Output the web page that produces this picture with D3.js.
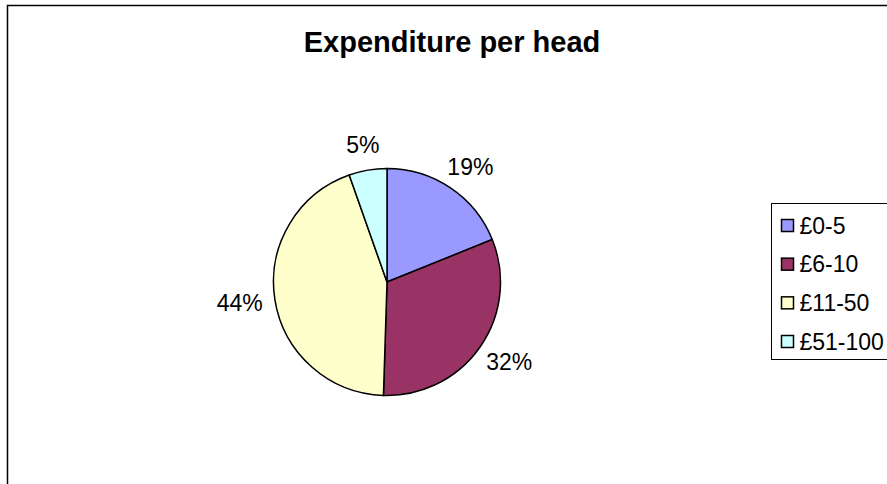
<!DOCTYPE html>
<html>
<head>
<meta charset="utf-8">
<script src="https://cdn.jsdelivr.net/npm/d3@7"></script>
<style>
  body { margin: 0; background: #fff; }
  svg { display: block; font-family: "Liberation Sans", Arial, sans-serif; }
</style>
</head>
<body>
<script>
var WIDTH = 887;
var HEIGHT = 484;

// chart data
var categories = ["£0-5", "£6-10", "£11-50", "£51-100"];
var values = [18.9, 31.6, 44.1, 5.4];
var title = "Expenditure per head";

var colors = ["#9999FF", "#993366", "#FFFFCC", "#CCFFFF"];

var CX = 387, CY = 282, R = 113.5;
var LABEL_D = 126; // distance of label anchor from pie centre

var svg = d3.select("body")
            .append("svg")
            .attr("width", WIDTH)
            .attr("height", HEIGHT);

// chart area border
svg.append("rect")
   .attr("x", 7.5)
   .attr("y", 5.5)
   .attr("width", WIDTH + 20)
   .attr("height", HEIGHT + 20)
   .attr("fill", "#fff")
   .attr("stroke", "#000")
   .attr("stroke-width", 1.5);

svg.append("text")
   .attr("x", 452)
   .attr("y", 52)
   .attr("text-anchor", "middle")
   .style("font-size", "29px")
   .style("font-weight", "bold")
   .text(title);

var data = categories.map((c, i) => ({ category: c, value: values[i], color: colors[i] }));
var total = d3.sum(values);

var pie = d3.pie()
            .sort(null)
            .value(d => d.value);

var arc = d3.arc().innerRadius(0).outerRadius(R);

var g = svg.append("g").attr("transform", "translate(" + CX + "," + CY + ")");

var arcs = pie(data);

g.selectAll("path.slice")
 .data(arcs)
 .enter()
 .append("path")
 .classed("slice", true)
 .attr("d", arc)
 .attr("fill", d => d.data.color)
 .attr("stroke", "#000")
 .attr("stroke-width", 1.5)
 .attr("stroke-linejoin", "round");

// outside-end labels: box pushed outward along the mid angle
var labels = g.selectAll("text.pct")
              .data(arcs)
              .enter()
              .append("text")
              .classed("pct", true)
              .attr("text-anchor", "middle")
              .attr("dy", "0.35em")
              .style("font-size", "23px")
              .attr("fill", "#000")
              .text(d => Math.round(d.data.value / total * 100) + "%");

labels.attr("transform", function(d) {
    var a = (d.startAngle + d.endAngle) / 2;
    var w = this.getComputedTextLength();
    var h = 26.5;
    var x = Math.sin(a) * LABEL_D + Math.sin(a) * w / 2;
    var y = -Math.cos(a) * LABEL_D - Math.cos(a) * h / 2;
    return "translate(" + x + "," + y + ")";
});

// legend
var legend = svg.append("g").attr("transform", "translate(771.5,203.5)");

legend.append("rect")
      .attr("width", 140)
      .attr("height", 156)
      .attr("fill", "#fff")
      .attr("stroke", "#000")
      .attr("stroke-width", 1);

var rowY = d3.scalePoint()
             .domain(categories)
             .range([22, 138]);

var items = legend.selectAll("g.item")
                  .data(data)
                  .enter()
                  .append("g")
                  .classed("item", true)
                  .attr("transform", d => "translate(0," + rowY(d.category) + ")");

items.append("rect")
     .attr("x", 10)
     .attr("y", -6)
     .attr("width", 12)
     .attr("height", 12)
     .attr("fill", d => d.color)
     .attr("stroke", "#000")
     .attr("stroke-width", 1.5);

items.append("text")
     .attr("x", 28)
     .attr("dy", "0.35em")
     .style("font-size", "23px")
     .text(d => d.category);
</script>
</body>
</html>
